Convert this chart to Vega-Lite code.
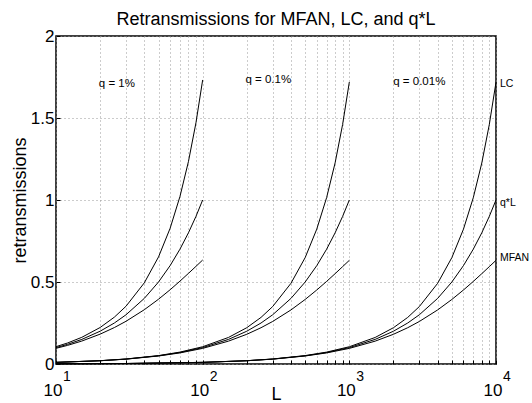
{
  "$schema": "https://vega.github.io/schema/vega-lite/v6.json",
  "width": 440,
  "height": 328,
  "autosize": {"type": "none"},
  "padding": {"left": 56, "top": 36, "right": 36, "bottom": 39},
  "background": "white",
  "config": {
    "font": "Liberation Sans",
    "view": {"stroke": "black", "strokeWidth": 1.5},
    "axis": {
      "domain": false,
      "ticks": true,
      "tickSize": -4,
      "tickColor": "black",
      "tickWidth": 1,
      "grid": true,
      "gridColor": "#999999",
      "gridDash": [1, 3],
      "gridWidth": 1,
      "labelColor": "black",
      "labelFont": "Liberation Sans",
      "labelFontSize": 17,
      "titleColor": "black",
      "titleFont": "Liberation Sans",
      "titleFontSize": 18,
      "titleFontWeight": "normal",
      "labelFlush": false,
      "labelOverlap": false,
      "labelBound": false
    }
  },
  "title": {
    "text": "Retransmissions for MFAN, LC, and q*L",
    "fontSize": 18,
    "fontWeight": "normal",
    "font": "Liberation Sans",
    "color": "black",
    "anchor": "middle",
    "frame": "group",
    "baseline": "bottom",
    "offset": -20
  },
  "datasets": {
    "curves": [
      {"g": "1%", "L": 10, "qL": 0.1, "LC": 0.1057, "MFAN": 0.0956},
      {"g": "1%", "L": 12, "qL": 0.12, "LC": 0.1282, "MFAN": 0.1136},
      {"g": "1%", "L": 15, "qL": 0.15, "LC": 0.1627, "MFAN": 0.1399},
      {"g": "1%", "L": 20, "qL": 0.2, "LC": 0.2226, "MFAN": 0.1821},
      {"g": "1%", "L": 25, "qL": 0.25, "LC": 0.2857, "MFAN": 0.2222},
      {"g": "1%", "L": 30, "qL": 0.3, "LC": 0.3519, "MFAN": 0.2603},
      {"g": "1%", "L": 40, "qL": 0.4, "LC": 0.4948, "MFAN": 0.331},
      {"g": "1%", "L": 50, "qL": 0.5, "LC": 0.6529, "MFAN": 0.395},
      {"g": "1%", "L": 60, "qL": 0.6, "LC": 0.8276, "MFAN": 0.4528},
      {"g": "1%", "L": 70, "qL": 0.7, "LC": 1.0209, "MFAN": 0.5052},
      {"g": "1%", "L": 80, "qL": 0.8, "LC": 1.2345, "MFAN": 0.5525},
      {"g": "1%", "L": 90, "qL": 0.9, "LC": 1.4708, "MFAN": 0.5953},
      {"g": "1%", "L": 100, "qL": 1.0, "LC": 1.732, "MFAN": 0.634},
      {"g": "0.1%", "L": 10, "qL": 0.01, "LC": 0.0101, "MFAN": 0.01},
      {"g": "0.1%", "L": 20, "qL": 0.02, "LC": 0.0202, "MFAN": 0.0198},
      {"g": "0.1%", "L": 30, "qL": 0.03, "LC": 0.0305, "MFAN": 0.0296},
      {"g": "0.1%", "L": 50, "qL": 0.05, "LC": 0.0513, "MFAN": 0.0488},
      {"g": "0.1%", "L": 70, "qL": 0.07, "LC": 0.0726, "MFAN": 0.0676},
      {"g": "0.1%", "L": 100, "qL": 0.1, "LC": 0.1052, "MFAN": 0.0952},
      {"g": "0.1%", "L": 150, "qL": 0.15, "LC": 0.1619, "MFAN": 0.1394},
      {"g": "0.1%", "L": 200, "qL": 0.2, "LC": 0.2215, "MFAN": 0.1813},
      {"g": "0.1%", "L": 250, "qL": 0.25, "LC": 0.2842, "MFAN": 0.2213},
      {"g": "0.1%", "L": 300, "qL": 0.3, "LC": 0.3501, "MFAN": 0.2593},
      {"g": "0.1%", "L": 400, "qL": 0.4, "LC": 0.4921, "MFAN": 0.3298},
      {"g": "0.1%", "L": 500, "qL": 0.5, "LC": 0.6491, "MFAN": 0.3936},
      {"g": "0.1%", "L": 600, "qL": 0.6, "LC": 0.8227, "MFAN": 0.4514},
      {"g": "0.1%", "L": 700, "qL": 0.7, "LC": 1.0145, "MFAN": 0.5036},
      {"g": "0.1%", "L": 800, "qL": 0.8, "LC": 1.2264, "MFAN": 0.5508},
      {"g": "0.1%", "L": 900, "qL": 0.9, "LC": 1.4607, "MFAN": 0.5936},
      {"g": "0.1%", "L": 1000, "qL": 1.0, "LC": 1.7196, "MFAN": 0.6323},
      {"g": "0.01%", "L": 10, "qL": 0.001, "LC": 0.001, "MFAN": 0.001},
      {"g": "0.01%", "L": 30, "qL": 0.003, "LC": 0.003, "MFAN": 0.003},
      {"g": "0.01%", "L": 100, "qL": 0.01, "LC": 0.0101, "MFAN": 0.01},
      {"g": "0.01%", "L": 200, "qL": 0.02, "LC": 0.0202, "MFAN": 0.0198},
      {"g": "0.01%", "L": 300, "qL": 0.03, "LC": 0.0305, "MFAN": 0.0296},
      {"g": "0.01%", "L": 500, "qL": 0.05, "LC": 0.0513, "MFAN": 0.0488},
      {"g": "0.01%", "L": 700, "qL": 0.07, "LC": 0.0725, "MFAN": 0.0676},
      {"g": "0.01%", "L": 1000, "qL": 0.1, "LC": 0.1052, "MFAN": 0.0952},
      {"g": "0.01%", "L": 1500, "qL": 0.15, "LC": 0.1618, "MFAN": 0.1393},
      {"g": "0.01%", "L": 2000, "qL": 0.2, "LC": 0.2214, "MFAN": 0.1813},
      {"g": "0.01%", "L": 2500, "qL": 0.25, "LC": 0.284, "MFAN": 0.2212},
      {"g": "0.01%", "L": 3000, "qL": 0.3, "LC": 0.3499, "MFAN": 0.2592},
      {"g": "0.01%", "L": 4000, "qL": 0.4, "LC": 0.4918, "MFAN": 0.3297},
      {"g": "0.01%", "L": 5000, "qL": 0.5, "LC": 0.6487, "MFAN": 0.3935},
      {"g": "0.01%", "L": 6000, "qL": 0.6, "LC": 0.8221, "MFAN": 0.4512},
      {"g": "0.01%", "L": 7000, "qL": 0.7, "LC": 1.0138, "MFAN": 0.5034},
      {"g": "0.01%", "L": 8000, "qL": 0.8, "LC": 1.2255, "MFAN": 0.5507},
      {"g": "0.01%", "L": 9000, "qL": 0.9, "LC": 1.4596, "MFAN": 0.5934},
      {"g": "0.01%", "L": 10000, "qL": 1.0, "LC": 1.7183, "MFAN": 0.6321}
    ],
    "groupLabels": [
      {"L": 26, "r": 1.71, "label": "q = 1%"},
      {"L": 280, "r": 1.73, "label": "q = 0.1%"},
      {"L": 3000, "r": 1.72, "label": "q = 0.01%"}
    ],
    "endLabels": [
      {"L": 10000, "r": 1.71, "label": "LC"},
      {"L": 10000, "r": 0.98, "label": "q*L"},
      {"L": 10000, "r": 0.645, "label": "MFAN"}
    ],
    "exponents": [
      {"L": 10, "e": "1"},
      {"L": 100, "e": "2"},
      {"L": 1000, "e": "3"},
      {"L": 10000, "e": "4"}
    ]
  },
  "layer": [
    {
      "data": {"name": "curves"},
      "transform": [{"fold": ["qL", "LC", "MFAN"], "as": ["series", "r"]}],
      "mark": {"type": "line", "color": "black", "strokeWidth": 1},
      "encoding": {
        "x": {
          "field": "L",
          "type": "quantitative",
          "scale": {"type": "log", "domain": [10, 10000]},
          "axis": {
            "values": [10, 20, 30, 40, 50, 60, 70, 80, 90, 100, 200, 300, 400, 500, 600, 700, 800, 900, 1000, 2000, 3000, 4000, 5000, 6000, 7000, 8000, 9000, 10000],
            "labelExpr": "indexof([10, 100, 1000, 10000], datum.value) >= 0 ? '10' : ''",
            "labelPadding": 22,
            "labelAlign": "right",
            "labelOffset": 6,
            "title": "L",
            "titleY": 35,
            "titleBaseline": "alphabetic"
          }
        },
        "y": {
          "field": "r",
          "type": "quantitative",
          "scale": {"domain": [0, 2]},
          "axis": {
            "values": [0, 0.5, 1, 1.5, 2],
            "format": "~g",
            "labelPadding": 6,
            "title": "retransmissions",
            "titleX": -31,
            "titleBaseline": "alphabetic"
          }
        },
        "detail": [{"field": "g"}, {"field": "series"}]
      }
    },
    {
      "data": {"name": "groupLabels"},
      "mark": {"type": "text", "fontSize": 11.5, "color": "black", "font": "Liberation Sans", "align": "center", "baseline": "middle"},
      "encoding": {
        "x": {"field": "L", "type": "quantitative"},
        "y": {"field": "r", "type": "quantitative"},
        "text": {"field": "label"}
      }
    },
    {
      "data": {"name": "endLabels"},
      "mark": {"type": "text", "fontSize": 10.5, "color": "black", "font": "Liberation Sans", "align": "left", "baseline": "middle", "dx": 4},
      "encoding": {
        "x": {"field": "L", "type": "quantitative"},
        "y": {"field": "r", "type": "quantitative"},
        "text": {"field": "label"}
      }
    },
    {
      "data": {"name": "exponents"},
      "mark": {"type": "text", "fontSize": 14, "color": "black", "font": "Liberation Sans", "align": "left", "baseline": "alphabetic", "dx": 7, "dy": 17},
      "encoding": {
        "x": {"field": "L", "type": "quantitative"},
        "y": {"datum": 0},
        "text": {"field": "e"}
      }
    }
  ]
}
